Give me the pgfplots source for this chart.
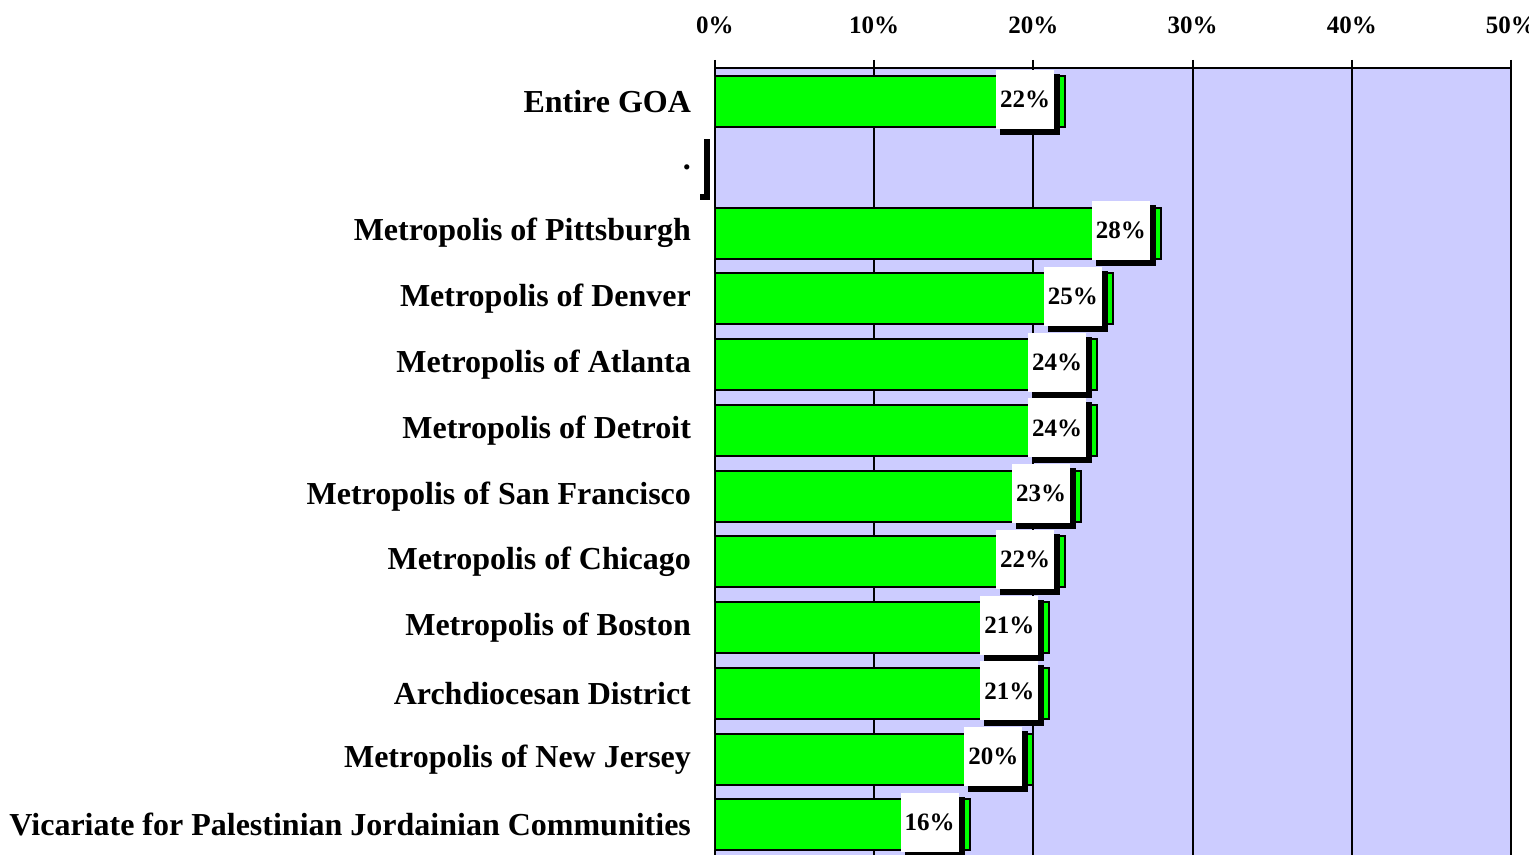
\documentclass[border=0pt]{standalone}
\usepackage{fontspec}
\setmainfont{Liberation Serif}
\usepackage{pgfplots}
\pgfplotsset{compat=1.18}
\usepackage{pgfplotstable}
\usetikzlibrary{shadows}
\definecolor{barGreen}{RGB}{0,255,0}
\definecolor{bgLav}{RGB}{204,204,255}

\pgfplotstableread{
pos value
0  22
2  28
3  25
4  24
5  24
6  23
7  22
8  21
9  21
10 20
11 16
}\datatable

\begin{document}
\begin{tikzpicture}
\begin{axis}[
  name=ax,
  /pgf/number format/assume math mode=true,
  scale only axis,
  width=398pt, height=393.5pt,
  xbar, bar width=25.5pt, bar shift=0pt,
  xmin=0, xmax=50,
  ymin=-0.511, ymax=11.457,
  y dir=reverse,
  axis x line*=top,
  axis y line*=left,
  axis line style={line width=1pt},
  xtick={0,10,20,30,40,50},
  xticklabel={\pgfmathprintnumber{\tick}\%},
  xticklabel style={font=\fontsize{12.5}{15}\selectfont\bfseries, anchor=base, yshift=13pt},
  tick align=outside,
  major tick length=4pt,
  x tick style={line width=1pt, black},
  ytick={0,1,2,3,4,5,6,7,8,9,10,11},
  yticklabels={Entire GOA, ., Metropolis of Pittsburgh, Metropolis of Denver, Metropolis of Atlanta, Metropolis of Detroit, Metropolis of San Francisco, Metropolis of Chicago, Metropolis of Boston, Archdiocesan District, Metropolis of New Jersey, Vicariate for Palestinian Jordainian Communities},
  yticklabel style={font=\fontsize{16}{19}\selectfont\bfseries, anchor=east, xshift=-4.5pt},
  y tick style={draw=none},
  xmajorgrids,
  major grid style={line width=1pt, black},
  axis background/.style={fill=bgLav},
  every node near coord/.append style={
    anchor=east, xshift=-5pt, yshift=1.25pt,
    fill=white, inner xsep=2pt, inner ysep=0pt,
    minimum height=29.5pt,
    font=\fontsize{12.5}{15}\selectfont\bfseries, text=black,
    drop shadow={shadow xshift=2.5pt, shadow yshift=-2.5pt, fill=black, opacity=1}
  },
]
\addplot[fill=barGreen, draw=black, line width=1pt,
  nodes near coords={\pgfmathprintnumber{\pgfplotspointmeta}\%}]
  table[x=value, y=pos] {\datatable};
\addplot[fill=barGreen, draw=black, line width=1pt,
  nodes near coords={}]
  coordinates {(0,1)};
\end{axis}
\pgfresetboundingbox
\path[use as bounding box] ([xshift=-357.5pt]ax.south west) rectangle ([xshift=9pt,yshift=34pt]ax.north east);
\end{tikzpicture}
\end{document}
